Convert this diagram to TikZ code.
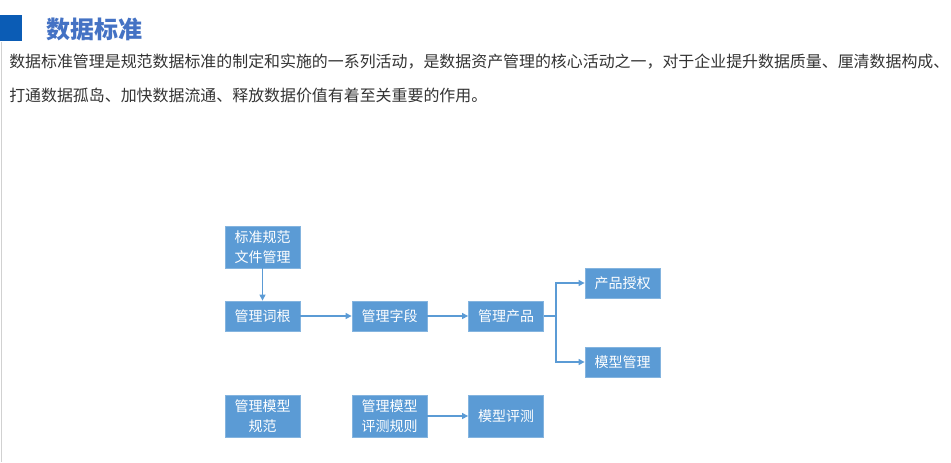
\documentclass[tikz,border=0pt]{standalone}
\usepackage{fontspec}
\setmainfont{Noto Sans CJK SC}
\usetikzlibrary{arrows.meta}
\definecolor{boxblue}{HTML}{5B9BD5}
\definecolor{titleblue}{HTML}{4472C4}
\definecolor{markblue}{HTML}{0B5CB5}
\definecolor{bodygray}{HTML}{333333}
\tikzset{
  stdbox/.style={draw=boxblue!75!white,fill=boxblue,line width=0.6pt,text=white,
    minimum width=56.25pt,inner sep=0pt,align=center,font=\fontsize{10.5}{15}\selectfont},
  onebox/.style={stdbox,minimum height=22.5pt},
  twobox/.style={stdbox,minimum height=31.5pt},
  flow/.style={draw=boxblue,line width=0.8pt,-{Triangle[length=4.5pt,width=4.5pt]}},
  bodyline/.style={anchor=west,inner sep=0pt,text=bodygray,font=\fontsize{11.95}{14}\selectfont}
}
\begin{document}
\begin{tikzpicture}[x=0.75pt,y=-0.75pt]
\useasboundingbox (0,0) rectangle (951,462);
\draw[black!18,line width=0.6pt] (1,42) -- (1,462);
\fill[markblue] (0,15) rectangle (22,41);
\node[anchor=west,inner sep=0pt,text=titleblue,font=\fontsize{18}{20}\selectfont\bfseries] (title) at (46,29) {数据标准};
\node[bodyline] (lineone) at (9,62) {数据标准管理是规范数据标准的制定和实施的一系列活动，是数据资产管理的核心活动之一，对于企业提升数据质量、厘清数据构成、};
\node[bodyline] (linetwo) at (9,95) {打通数据孤岛、加快数据流通、释放数据价值有着至关重要的作用。};
\node[twobox] (docs) at (262.5,247) {标准规范\\文件管理};
\node[onebox] (roots) at (262.5,316) {管理词根};
\node[onebox] (fields) at (389.5,316) {管理字段};
\node[onebox] (products) at (506,316) {管理产品};
\node[onebox] (auth) at (622.5,283) {产品授权};
\node[onebox] (models) at (622.5,362) {模型管理};
\node[twobox] (modelspec) at (262.5,416) {管理模型\\规范};
\node[twobox] (evalrules) at (389.5,416) {管理模型\\评测规则};
\node[twobox] (evals) at (506,416) {模型评测};
\coordinate (split) at (556,316);
\draw[flow] (docs) -- (roots);
\draw[flow] (roots) -- (fields);
\draw[flow] (fields) -- (products);
\draw[draw=boxblue,line width=0.8pt] (products) -- (split);
\draw[flow] (split) |- (auth);
\draw[flow] (split) |- (models);
\draw[flow] (evalrules) -- (evals);
\end{tikzpicture}
\end{document}
